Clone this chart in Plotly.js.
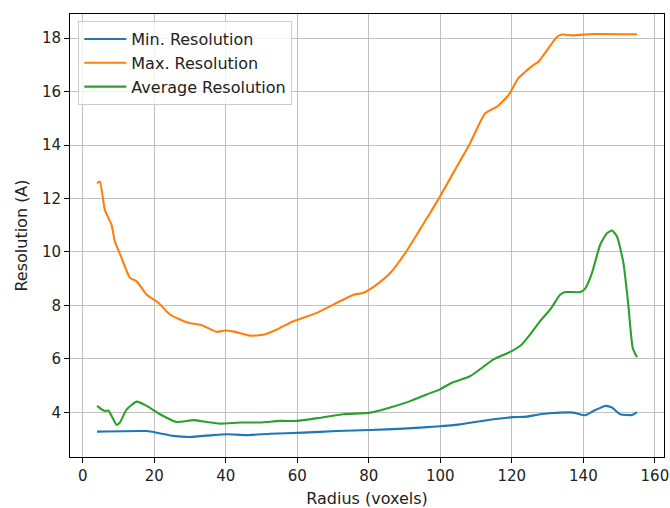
<!DOCTYPE html>
<html>
<head>
<meta charset="utf-8">
<script src="https://cdn.plot.ly/plotly-3.0.1.min.js"></script>
<style>html,body{margin:0;padding:0;background:#fff;}#chart{width:670px;height:508px;}</style>
</head>
<body>
<div id="chart"></div>
<script>
const radiusMin = [4, 17.9, 20.7, 25.3, 30, 36.5, 40.3, 45.9, 52.4, 61.7, 71, 80.4, 89.7, 99, 105.5, 108.3, 114.9, 120.4, 124.2, 127.9, 133.5, 137.2, 140.5, 142.8, 146.1, 148, 150.3, 153.6, 155];
const minRes = [3.28, 3.30, 3.24, 3.12, 3.08, 3.15, 3.18, 3.15, 3.20, 3.24, 3.30, 3.34, 3.39, 3.47, 3.55, 3.61, 3.74, 3.82, 3.84, 3.93, 3.99, 3.99, 3.89, 4.05, 4.24, 4.18, 3.93, 3.90, 4.01];

const radiusMax = [4, 4.8, 6.2, 8.1, 9.0, 10.9, 13.2, 15.1, 17.9, 21.2, 24.4, 27.2, 29.5, 33.3, 37.5, 39.8, 42.6, 46.8, 50.5, 54.3, 58.9, 65.5, 71.0, 75.7, 78.5, 82.2, 86, 90.2, 93.4, 97.1, 99.9, 104.1, 108.3, 112.5, 115.8, 119.1, 121.8, 126, 127.4, 132.6, 134, 136.8, 140, 142.8, 155];
const maxRes = [12.57, 12.63, 11.57, 11.0, 10.39, 9.77, 9.03, 8.9, 8.4, 8.09, 7.66, 7.47, 7.35, 7.26, 7.01, 7.06, 7.01, 6.87, 6.9, 7.1, 7.41, 7.72, 8.09, 8.4, 8.47, 8.78, 9.21, 9.96, 10.64, 11.45, 12.07, 13.07, 14.06, 15.18, 15.43, 15.87, 16.49, 16.99, 17.11, 18.04, 18.13, 18.1, 18.13, 18.15, 18.14];

const radiusAvg = [4, 5.3, 6.2, 7.2, 8.1, 9.5, 10.4, 12.3, 15.1, 17.9, 21.6, 26.3, 30.9, 34.7, 38.4, 44, 49.6, 55.2, 59.9, 66.4, 72.9, 80.4, 86, 91.6, 96.2, 99.9, 103.2, 108.3, 114.9, 119.5, 122.8, 125.1, 127.9, 130.7, 133.5, 134.9, 139.1, 140.5, 142.4, 144.7, 146.6, 148, 149.4, 151.2, 152.6, 153.8, 155];
const avgRes = [4.24, 4.11, 4.05, 4.07, 3.86, 3.53, 3.62, 4.11, 4.4, 4.24, 3.93, 3.64, 3.71, 3.64, 3.58, 3.62, 3.62, 3.68, 3.68, 3.8, 3.93, 3.99, 4.18, 4.42, 4.67, 4.86, 5.11, 5.35, 5.98, 6.26, 6.54, 6.91, 7.41, 7.84, 8.4, 8.5, 8.5, 8.63, 9.21, 10.27, 10.7, 10.8, 10.58, 9.59, 7.97, 6.41, 6.06];

const seriesNames = ["Min. Resolution", "Max. Resolution", "Average Resolution"];
const xTitle = "Radius (voxels)";
const yTitle = "Resolution (A)";

const colors = ["#1f77b4", "#ff7f0e", "#2ca02c"];
const xs = [radiusMin, radiusMax, radiusAvg];
const ys = [minRes, maxRes, avgRes];

const traces = xs.map((x, i) => ({
  x: x, y: ys[i], name: seriesNames[i], type: "scatter", mode: "lines",
  line: {color: colors[i], width: 2.1, shape: "spline", smoothing: 0.5},
  legendgroup: "g" + i
}));

const tickFont = {family: "DejaVu Sans, sans-serif", size: 15, color: "#222"};
const textFont = {family: "DejaVu Sans, sans-serif", size: 16, color: "#222"};

const layout = {
  width: 670, height: 508,
  margin: {l: 70, r: 6, t: 14, b: 51},
  paper_bgcolor: "#fff", plot_bgcolor: "#fff",
  font: textFont,
  showlegend: true,
  legend: {
    x: 0.014, y: 0.984, xanchor: "left", yanchor: "top",
    bgcolor: "rgba(255,255,255,0.8)", bordercolor: "#cccccc", borderwidth: 1,
    font: textFont, traceorder: "grouped", tracegroupgap: 0, itemwidth: 42
  },
  xaxis: {
    range: [-3.55, 162.55], tick0: 0, dtick: 20,
    showgrid: true, gridcolor: "#b0b0b0", gridwidth: 0.8,
    zeroline: false, showline: true, mirror: true, linecolor: "#000", linewidth: 1,
    ticks: "outside", ticklen: 5, tickwidth: 1, tickcolor: "#000",
    tickfont: tickFont,
    title: {text: xTitle, font: textFont, standoff: 8}
  },
  yaxis: {
    range: [2.33, 18.9], tick0: 0, dtick: 2,
    showgrid: true, gridcolor: "#b0b0b0", gridwidth: 0.8,
    zeroline: false, showline: true, mirror: true, linecolor: "#000", linewidth: 1,
    ticks: "outside", ticklen: 5, tickwidth: 1, tickcolor: "#000",
    tickfont: tickFont,
    title: {text: yTitle, font: textFont, standoff: 10}
  }
};

Plotly.newPlot("chart", traces, layout, {displayModeBar: false, staticPlot: true});
</script>
</body>
</html>
